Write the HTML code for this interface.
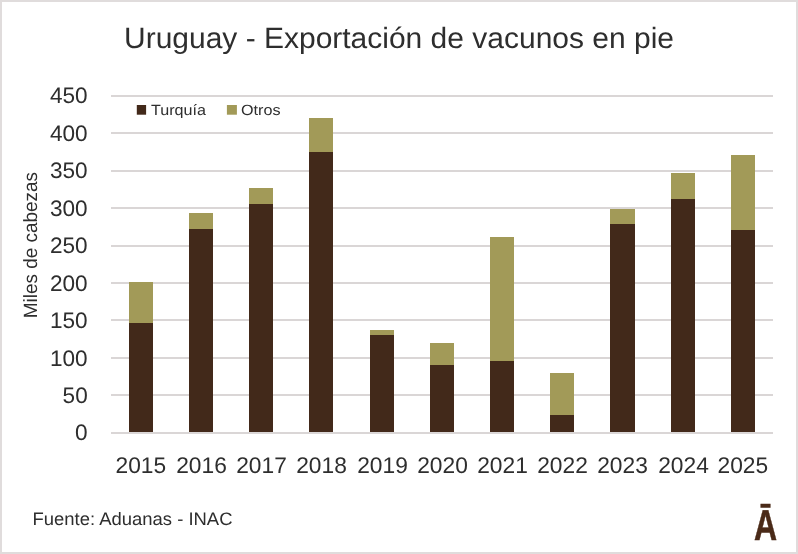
<!DOCTYPE html>
<html lang="es"><head><meta charset="utf-8"><title>Uruguay - Exportación de vacunos en pie</title>
<style>html,body{margin:0;padding:0;background:#fff}body{width:798px;height:554px;overflow:hidden}svg{display:block}text{font-family:"Liberation Sans",sans-serif;fill:#2e2e2e;text-rendering:geometricPrecision}</style>
</head><body>
<svg width="798" height="554" viewBox="0 0 798 554">
<rect x="0" y="0" width="798" height="554" fill="#fff"/>
<rect x="1" y="1" width="796" height="552" fill="none" stroke="#e0dcdc" stroke-width="2"/>
<g fill="#dad6d6">
<rect x="111" y="95" width="662" height="2"/>
<rect x="111" y="132" width="662" height="2"/>
<rect x="111" y="170" width="662" height="2"/>
<rect x="111" y="207" width="662" height="2"/>
<rect x="111" y="245" width="662" height="2"/>
<rect x="111" y="282" width="662" height="2"/>
<rect x="111" y="319" width="662" height="2"/>
<rect x="111" y="357" width="662" height="2"/>
<rect x="111" y="394" width="662" height="2"/>
<rect x="111" y="432" width="662" height="2"/>
</g>
<g shape-rendering="crispEdges">
<rect x="129" y="282" width="24" height="41" fill="#a29a58"/>
<rect x="129" y="323" width="24" height="109" fill="#42291a"/>
<rect x="189" y="213" width="24" height="16" fill="#a29a58"/>
<rect x="189" y="229" width="24" height="203" fill="#42291a"/>
<rect x="249" y="188" width="24" height="16" fill="#a29a58"/>
<rect x="249" y="204" width="24" height="228" fill="#42291a"/>
<rect x="309" y="118" width="24" height="34" fill="#a29a58"/>
<rect x="309" y="152" width="24" height="280" fill="#42291a"/>
<rect x="370" y="330" width="24" height="5" fill="#a29a58"/>
<rect x="370" y="335" width="24" height="97" fill="#42291a"/>
<rect x="430" y="343" width="24" height="22" fill="#a29a58"/>
<rect x="430" y="365" width="24" height="67" fill="#42291a"/>
<rect x="490" y="237" width="24" height="124" fill="#a29a58"/>
<rect x="490" y="361" width="24" height="71" fill="#42291a"/>
<rect x="550" y="373" width="24" height="42" fill="#a29a58"/>
<rect x="550" y="415" width="24" height="17" fill="#42291a"/>
<rect x="610" y="209" width="25" height="15" fill="#a29a58"/>
<rect x="610" y="224" width="25" height="208" fill="#42291a"/>
<rect x="671" y="173" width="24" height="26" fill="#a29a58"/>
<rect x="671" y="199" width="24" height="233" fill="#42291a"/>
<rect x="731" y="155" width="24" height="75" fill="#a29a58"/>
<rect x="731" y="230" width="24" height="202" fill="#42291a"/>
</g>
<rect x="111" y="432" width="662" height="2" fill="#dad6d6"/>
<text x="124" y="48.4" font-size="29.3" textLength="550" lengthAdjust="spacingAndGlyphs">Uruguay - Exportación de vacunos en pie</text>
<g font-size="22.4" text-anchor="end">
<text x="87.7" y="103.00" textLength="37.7" lengthAdjust="spacingAndGlyphs">450</text>
<text x="87.7" y="141.00" textLength="37.7" lengthAdjust="spacingAndGlyphs">400</text>
<text x="87.7" y="178.00" textLength="37.7" lengthAdjust="spacingAndGlyphs">350</text>
<text x="87.7" y="216.00" textLength="37.7" lengthAdjust="spacingAndGlyphs">300</text>
<text x="87.7" y="253.00" textLength="37.7" lengthAdjust="spacingAndGlyphs">250</text>
<text x="87.7" y="291.00" textLength="37.7" lengthAdjust="spacingAndGlyphs">200</text>
<text x="87.7" y="328.00" textLength="37.7" lengthAdjust="spacingAndGlyphs">150</text>
<text x="87.7" y="366.00" textLength="37.7" lengthAdjust="spacingAndGlyphs">100</text>
<text x="87.7" y="403.00" textLength="25.1" lengthAdjust="spacingAndGlyphs">50</text>
<text x="87.7" y="440.00" textLength="12.6" lengthAdjust="spacingAndGlyphs">0</text>
</g>
<g font-size="22.6" text-anchor="middle">
<text x="140.8" y="473" textLength="50.6" lengthAdjust="spacingAndGlyphs">2015</text>
<text x="201.5" y="473" textLength="50.6" lengthAdjust="spacingAndGlyphs">2016</text>
<text x="261.5" y="473" textLength="50.6" lengthAdjust="spacingAndGlyphs">2017</text>
<text x="321.5" y="473" textLength="50.6" lengthAdjust="spacingAndGlyphs">2018</text>
<text x="382.5" y="473" textLength="50.6" lengthAdjust="spacingAndGlyphs">2019</text>
<text x="442.5" y="473" textLength="50.6" lengthAdjust="spacingAndGlyphs">2020</text>
<text x="502.5" y="473" textLength="50.6" lengthAdjust="spacingAndGlyphs">2021</text>
<text x="562.5" y="473" textLength="50.6" lengthAdjust="spacingAndGlyphs">2022</text>
<text x="622.5" y="473" textLength="50.6" lengthAdjust="spacingAndGlyphs">2023</text>
<text x="683.5" y="473" textLength="50.6" lengthAdjust="spacingAndGlyphs">2024</text>
<text x="742.8" y="473" textLength="50.6" lengthAdjust="spacingAndGlyphs">2025</text>
</g>
<text transform="translate(36.8 318.3) rotate(-90)" font-size="19.2" textLength="146.3" lengthAdjust="spacingAndGlyphs">Miles de cabezas</text>
<rect x="136.8" y="105" width="9.3" height="9.7" fill="#42291a"/>
<text x="151" y="114.6" font-size="14.8" textLength="55" lengthAdjust="spacingAndGlyphs">Turquía</text>
<rect x="226.9" y="105" width="10" height="9.7" fill="#a29a58"/>
<text x="241" y="114.6" font-size="14.8" textLength="39.5" lengthAdjust="spacingAndGlyphs">Otros</text>
<text x="32.5" y="525" font-size="18" textLength="200" lengthAdjust="spacingAndGlyphs">Fuente: Aduanas - INAC</text>
<text x="765.6" y="539.6" font-size="43.2" text-rendering="geometricPrecision" font-weight="bold" text-anchor="middle" style="fill:#4a2a18;stroke:#4a2a18;stroke-width:0.5px" vector-effect="non-scaling-stroke" transform="translate(765.6 539.6) scale(0.74 1) translate(-765.6 -539.6)">Ā</text>
</svg>
</body></html>
